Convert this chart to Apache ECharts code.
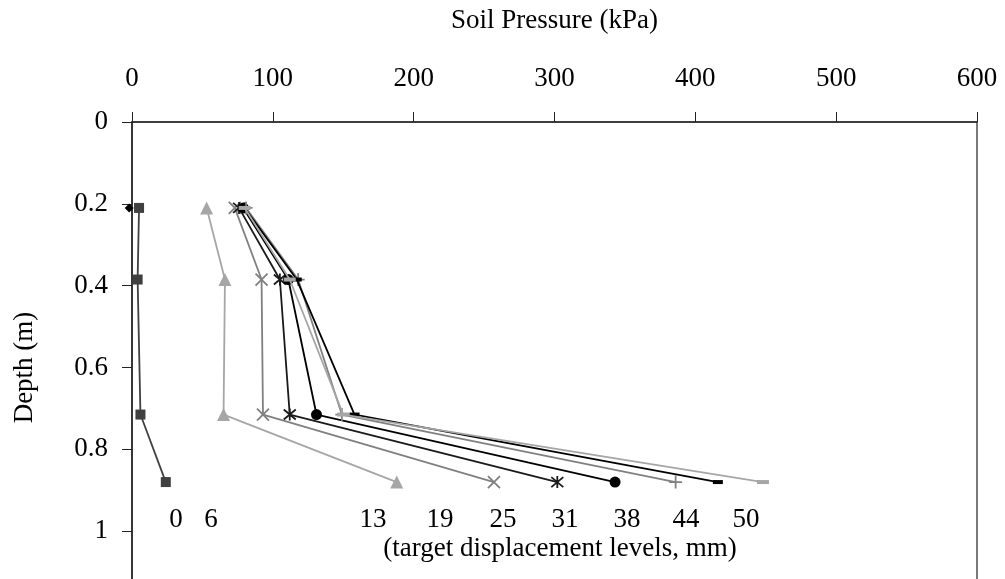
<!DOCTYPE html>
<html><head><meta charset="utf-8">
<script src="https://cdn.jsdelivr.net/npm/echarts/dist/echarts.min.js"></script>
<style>html,body{margin:0;padding:0;background:#fff}#c{width:1005px;height:579px}</style>
</head><body><div id="c"></div>
<script>
// Depth of the pressure cells (m)
const depths = [0.21, 0.385, 0.715, 0.88];
// Target displacement levels (mm) - series names
const levels = ['0', '6', '13', '19', '25', '31', '38', '44', '50'];
// Soil pressure (kPa) at each depth, per displacement level
const p0  = [-2, -1.5, -1.5, -4.5];
const p6  = [5, 4, 6, 24];
const p13 = [53, 66, 65, 188];
const p19 = [73, 92, 93, 257];
const p25 = [76, 105, 112, 302];
const p31 = [79, 111, 131, 343];
const p38 = [81, 118, 149, 386];
const p44 = [80, 117, 158, 416];
const p50 = [80, 112, 150, 448];
const pressures = [p0, p6, p13, p19, p25, p31, p38, p44, p50];
// Axis ticks
const xTicks = [0, 100, 200, 300, 400, 500, 600];
const yTicks = [0, 0.2, 0.4, 0.6, 0.8, 1];

const FONT = 'Liberation Serif';
const X_PATH = 'path://M0,0L10,10M10,0L0,10';
const AST_PATH = 'path://M0,0L10,10M10,0L0,10M5,-1L5,11';
const PLUS_PATH = 'path://M5,0L5,10M0,5L10,5';

const styles = [
  {color: '#000000', symbol: 'diamond', size: 9, stroke: false, lw: 1.3},
  {color: '#404040', symbol: 'rect', size: 10, stroke: false, lw: 1.8},
  {color: '#a6a6a6', symbol: 'triangle', size: 13, stroke: false, lw: 1.8},
  {color: '#808080', symbol: X_PATH, size: 12, stroke: true, lw: 1.8},
  {color: '#1a1a1a', symbol: AST_PATH, size: 12, stroke: true, lw: 1.8},
  {color: '#000000', symbol: 'circle', size: 11, stroke: false, lw: 1.8},
  {color: '#808080', symbol: PLUS_PATH, size: 13, stroke: true, lw: 1.8},
  {color: '#000000', symbol: 'rect', size: [10, 4], stroke: false, lw: 1.8},
  {color: '#a6a6a6', symbol: 'rect', size: [12, 4], stroke: false, lw: 1.8}
];

const series = levels.map((name, i) => {
  const st = styles[i];
  return {
    name: name + ' mm',
    type: 'line',
    // the 0 mm curve only shows its marker at the top cell
    data: pressures[i].map((p, k) => (i === 0 && k > 0) ? {value: [p, depths[k]], symbol: 'none'} : [p, depths[k]]),
    symbol: st.symbol,
    symbolSize: st.size,
    showSymbol: true,
    clip: false,
    lineStyle: {color: st.color, width: st.lw},
    itemStyle: st.stroke
      ? {color: 'rgba(0,0,0,0)', borderColor: st.color, borderWidth: 1.8}
      : {color: st.color, borderWidth: 0},
    z: i === 0 ? 20 : 2 + i,
    animation: false
  };
});

// Annotation labels (displacement levels) placed below the curves
const levelLabelX = [176, 211, 373, 440, 503, 565, 627, 686, 746];
const graphic = levels.map((t, i) => ({
  type: 'text', x: levelLabelX[i], y: 520,
  style: {text: t, fontSize: 27, fontFamily: FONT, fill: '#000', align: 'center', verticalAlign: 'middle'}
}));
graphic.push({
  type: 'text', x: 560, y: 549,
  style: {text: '(target displacement levels, mm)', fontSize: 27, fontFamily: FONT, fill: '#000', align: 'center', verticalAlign: 'middle'}
});

const chart = echarts.init(document.getElementById('c'), null, {renderer: 'canvas'});
chart.setOption({
  animation: false,
  backgroundColor: '#fff',
  grid: {left: 132, right: 28, top: 122, bottom: -34, containLabel: false, outerBoundsMode: 'none',
         show: true, borderColor: '#222', borderWidth: 1.2, backgroundColor: 'transparent'},
  xAxis: {
    type: 'value', position: 'top', min: xTicks[0], max: xTicks[xTicks.length - 1], interval: 100,
    name: 'Soil Pressure (kPa)', nameLocation: 'middle', nameGap: 88,
    nameTextStyle: {fontFamily: FONT, fontSize: 27, color: '#000'},
    axisLine: {show: true, onZero: false, lineStyle: {color: '#222', width: 1.5}},
    axisTick: {show: true, length: 10, lineStyle: {color: '#222'}},
    axisLabel: {fontFamily: FONT, fontSize: 27, color: '#000', margin: 30},
    splitLine: {show: false}
  },
  yAxis: {
    type: 'value', inverse: true, min: 0, max: 1.2, interval: 0.2,
    name: 'Depth (m)', nameLocation: 'middle', nameGap: 94,
    nameTextStyle: {fontFamily: FONT, fontSize: 27, color: '#000'},
    axisLine: {show: true, onZero: false, lineStyle: {color: '#222', width: 1.5}},
    axisTick: {show: true, length: 10, lineStyle: {color: '#222'}},
    axisLabel: {
      fontFamily: FONT, fontSize: 27, color: '#000', margin: 24,
      formatter: v => (yTicks.some(t => Math.abs(t - v) < 1e-6) ? String(+v.toFixed(1)) : '')
    },
    splitLine: {show: false}
  },
  series: series,
  graphic: graphic
});
</script>
</body></html>
